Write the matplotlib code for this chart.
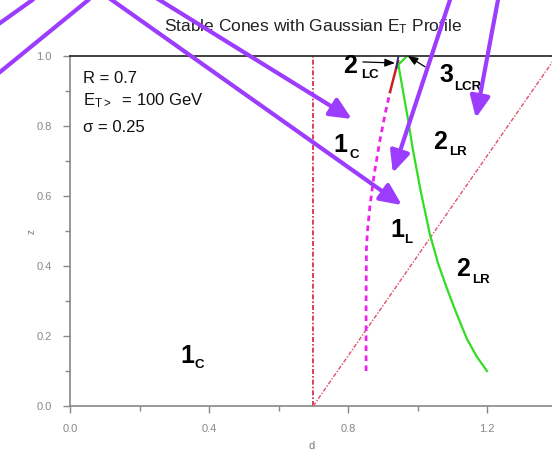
import matplotlib
matplotlib.use("Agg")
import matplotlib.pyplot as plt
import numpy as np

# ---------------- data ----------------
R_value = 0.7
vert_d = [0.7, 0.7]
vert_z = [0.0, 1.0]
diag_d = [0.7, 1.4]
diag_z = [0.0, 1.0]

magenta_d = [0.852, 0.852, 0.853, 0.856, 0.863, 0.875, 0.892, 0.908, 0.921]
magenta_z = [0.10, 0.30, 0.45, 0.50, 0.57, 0.66, 0.76, 0.84, 0.897]

red_d = [0.921, 0.932, 0.944]
red_z = [0.897, 0.94, 0.985]

blue_d = [0.939, 0.945]
blue_z = [0.965, 1.0]

green_d = [0.970, 0.945, 0.973, 0.987, 1.010, 1.036, 1.060, 1.085, 1.110, 1.142, 1.170, 1.200]
green_z = [1.000, 0.975, 0.817, 0.731, 0.610, 0.489, 0.405, 0.335, 0.270, 0.192, 0.142, 0.100]

# region labels: (digit, subscript, digit pos, subscript pos)
region_labels = [
    ("1", "C",   (0.757, 0.726), (0.803, 0.709)),
    ("2", "LC",  (0.786, 0.951), (0.837, 0.937)),
    ("3", "LCR", (1.062, 0.926), (1.105, 0.903)),
    ("2", "LR",  (1.045, 0.734), (1.091, 0.717)),
    ("1", "L",   (0.921, 0.483), (0.961, 0.466)),
    ("2", "LR",  (1.111, 0.371), (1.157, 0.351)),
    ("1", "C",   (0.317, 0.123), (0.357, 0.109)),
]

# small black pointer arrows (tail, tip)
pointer_arrows = [
    ((0.843, 0.983), (0.935, 0.980)),
    ((1.022, 0.969), (0.972, 1.000)),
]

# purple overlay arrows (tail, tip)
purple_arrows = [
    ((0.072, 1.194), (0.955, 0.574)),
    ((0.230, 1.177), (0.811, 0.820)),
    ((1.103, 1.189), (0.929, 0.666)),
    ((1.237, 1.189), (1.168, 0.823)),
]
# purple overlay lines without visible heads
purple_lines = [
    ((-0.23, 1.074), (-0.08, 1.18)),
    ((-0.23, 0.931), (0.081, 1.183)),
]

info_lines = ["R = 0.7", r"E$_{\mathrm{T>}}$  = 100 GeV", "σ = 0.25"]
info_z = [0.923, 0.860, 0.783]

x_major = [0.0, 0.4, 0.8, 1.2]
x_minor = [0.2, 0.6, 1.0]
y_major = [0.0, 0.2, 0.4, 0.6, 0.8, 1.0]
y_minor = [0.1, 0.3, 0.5, 0.7, 0.9]

# ---------------- style ----------------
plt.rcParams['font.family'] = ['Liberation Sans', 'DejaVu Sans']
plt.rcParams['mathtext.fontset'] = 'custom'
plt.rcParams['mathtext.rm'] = 'Liberation Sans'
plt.rcParams['mathtext.it'] = 'Liberation Sans'
plt.rcParams['mathtext.bf'] = 'Liberation Sans:bold'

fig = plt.figure(figsize=(5.52, 4.53), dpi=100)
ax = fig.add_axes([70/552, 47/453, 486.5/552, 350/453])
ax.set_xlim(0, 1.4)
ax.set_ylim(0, 1.0)

ax.plot(vert_d, vert_z, color='#d8203c', lw=1.2, linestyle=(0, (3, 1.2, 1, 1.2)))
ax.plot(diag_d, diag_z, color='#e0506a', lw=1.0, linestyle=(0, (3, 1.2, 1, 1.2)))
ax.plot(magenta_d, magenta_z, color='#ee22ee', lw=2.0, linestyle=(0, (2.0, 1.6)))
ax.plot(red_d, red_z, color='#cc2020', lw=1.8)
ax.plot(green_d, green_z, color='#33dd22', lw=1.6)
ax.plot(blue_d, blue_z, color='#3a2a8a', lw=1.4)

for dig, sub, pd, ps in region_labels:
    ax.text(pd[0], pd[1], dig, fontsize=18, fontweight='bold', ha='left', va='baseline', color='black')
    ax.text(ps[0], ps[1], sub, fontsize=9.5, fontweight='bold', ha='left', va='baseline', color='black')

for tail, tip in pointer_arrows:
    ax.annotate('', xy=tip, xytext=tail,
                arrowprops=dict(arrowstyle='-|>,head_length=0.5,head_width=0.2', color='black',
                                lw=0.9, mutation_scale=12, shrinkA=0, shrinkB=0))

for tx, tz in zip(info_lines, info_z):
    ax.text(0.037, tz, tx, fontsize=12, ha='left', va='baseline', color='#111111')

ax.text(0.5, 1 + 25/350, r"Stable Cones with Gaussian E$_{\mathrm{T}}$ Profile",
        transform=ax.transAxes, ha='center', va='baseline', fontsize=12.5, color='#222222')

# axes styling
for s in ['left', 'bottom']:
    ax.spines[s].set_color('#888888')
    ax.spines[s].set_linewidth(1.2)
ax.spines['top'].set_color('#333333')
ax.spines['top'].set_linewidth(1.3)
ax.spines['right'].set_visible(False)

ax.set_xticks(x_major)
ax.set_xticks(x_minor, minor=True)
ax.set_yticks(y_major)
ax.set_yticks(y_minor, minor=True)
ax.set_xticklabels([f"{v:.1f}" for v in x_major])
ax.set_yticklabels([f"{v:.1f}" for v in y_major])
ax.tick_params(which='major', direction='out', length=5, width=1, color='#888888',
               labelcolor='#888888', labelsize=8)
ax.tick_params(axis='y', which='major', pad=8)
ax.tick_params(axis='x', which='major', pad=8)
ax.tick_params(which='minor', direction='out', length=3.5, width=1, color='#888888')

ax.set_xlabel('d', fontsize=8, color='#777777', va='center')
ax.set_ylabel('z', fontsize=7, color='#777777', va='center')
ax.xaxis.set_label_coords(242/486.5, -40/350)
ax.yaxis.set_label_coords(-38/486.5, 0.497)

purple = '#9b3cff'
for tail, tip in purple_arrows:
    ax.annotate('', xy=tip, xytext=tail, annotation_clip=False,
                arrowprops=dict(arrowstyle='-|>,head_length=0.65,head_width=0.3', color=purple,
                                lw=3.0, mutation_scale=20, shrinkA=0, shrinkB=0))
for (a, b) in purple_lines:
    ax.plot([a[0], b[0]], [a[1], b[1]], color=purple, lw=3.0, clip_on=False, solid_capstyle='butt')

fig.savefig('out.png', dpi=100)
